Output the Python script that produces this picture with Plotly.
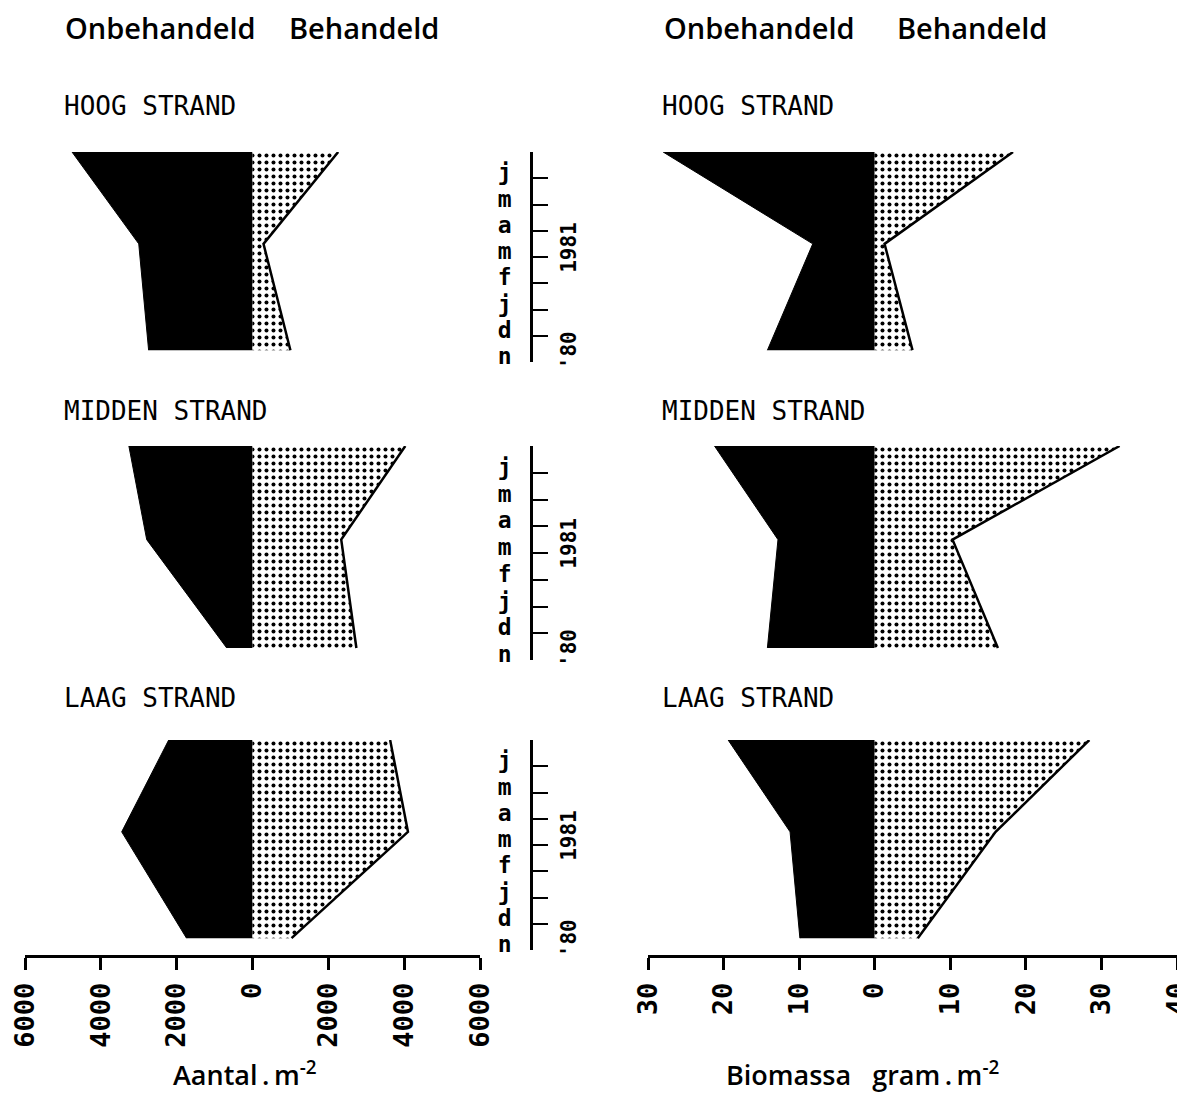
import plotly.graph_objects as go

# page is drawn with an 8 px body margin; figure coordinates are offset accordingly
PAGE_W, PAGE_H = 1185, 1094
OFF = 8
W, H = PAGE_W - OFF, PAGE_H - OFF

# ---------------- data ----------------
# time axis: months since 1 Nov 1980 (n d j f m a m j)
month_letters = ['n', 'd', 'j', 'f', 'm', 'a', 'm', 'j', '']
month_ticks = [0, 1, 2, 3, 4, 5, 6, 7, 8]
sample_t = [0.45, 4.5, 8.0]          # sampling moments (mid-Nov '80, mid-Mar '81, end Jun '81)

stations = ['HOOG STRAND', 'MIDDEN STRAND', 'LAAG STRAND']

# Aantal per m2
aantal_hoog_onbeh = [2740, 3000, 4760]
aantal_hoog_beh = [1000, 290, 2260]
aantal_midden_onbeh = [680, 2790, 3260]
aantal_midden_beh = [2740, 2340, 4030]
aantal_laag_onbeh = [1740, 3450, 2210]
aantal_laag_beh = [1030, 4100, 3630]

# Biomassa gram per m2
bio_hoog_onbeh = [14.2, 8.2, 28.0]
bio_hoog_beh = [5.0, 1.3, 18.3]
bio_midden_onbeh = [14.2, 12.8, 21.2]
bio_midden_beh = [16.3, 10.3, 32.4]
bio_laag_onbeh = [9.9, 11.2, 19.4]
bio_laag_beh = [5.7, 16.0, 28.4]

aantal_ticks = [-6000, -4000, -2000, 0, 2000, 4000, 6000]
aantal_labels = ['6000', '4000', '2000', '0', '2000', '4000', '6000']
bio_ticks = [-30, -20, -10, 0, 10, 20, 30, 40]
bio_labels = ['30', '20', '10', '0', '10', '20', '30', '40']

# ---------------- layout helpers ----------------
def px_x(p):
    return (p - OFF) / W

def px_y(p):
    return 1 - (p - OFF) / H

xL = [px_x(25), px_x(480)]
xR = [px_x(648), px_x(1177)]
row_px = [(152, 362), (446, 660), (740, 950)]
row_dom = [[px_y(b), px_y(t)] for t, b in row_px]

aantal_rows = [(aantal_hoog_onbeh, aantal_hoog_beh),
               (aantal_midden_onbeh, aantal_midden_beh),
               (aantal_laag_onbeh, aantal_laag_beh)]
bio_rows = [(bio_hoog_onbeh, bio_hoog_beh),
            (bio_midden_onbeh, bio_midden_beh),
            (bio_laag_onbeh, bio_laag_beh)]

fig = go.Figure()

STIPPLE = dict(shape='.', size=7, solidity=0.26, fgcolor='black', bgcolor='white', fillmode='replace')

for r in range(3):
    yname = 'y' if r == 0 else f'y{r + 1}'
    xl = 'x' if r == 0 else f'x{2 * r + 1}'
    xr = f'x{2 * r + 2}'
    for xname, (onb, beh) in ((xl, aantal_rows[r]), (xr, bio_rows[r])):
        fig.add_trace(go.Scatter(
            x=[-v for v in onb], y=sample_t, xaxis=xname, yaxis=yname,
            mode='lines', fill='tozerox', fillcolor='black',
            line=dict(color='black', width=1), showlegend=False, hoverinfo='skip'))
        fig.add_trace(go.Scatter(
            x=beh, y=sample_t, xaxis=xname, yaxis=yname,
            mode='lines', fill='tozerox', fillpattern=STIPPLE, fillcolor='white',
            line=dict(color='black', width=2.5), showlegend=False, hoverinfo='skip'))

layout = dict(width=W, height=H, autosize=False, margin=dict(l=0, r=0, t=0, b=0, pad=0),
              paper_bgcolor='white', plot_bgcolor='rgba(0,0,0,0)', showlegend=False)

tick_font = dict(family='DejaVu Sans Mono', size=27, color='black', weight='bold')
for r in range(3):
    ykey = 'yaxis' if r == 0 else f'yaxis{r + 1}'
    yname = 'y' if r == 0 else f'y{r + 1}'
    layout[ykey] = dict(
        domain=row_dom[r], range=[0, 8], anchor='free', position=px_x(531), side='left',
        showline=True, linecolor='black', linewidth=2.5, automargin=False,
        tickmode='array', tickvals=month_ticks, ticktext=month_letters,
        ticks='inside', ticklen=15, tickwidth=2, tickcolor='black',
        tickfont=dict(family='DejaVu Sans Mono', size=23, color='black', weight='bold'),
        ticklabelstandoff=14, ticklabelshift=-6, ticklabeloverflow='allow',
        showgrid=False, zeroline=False, fixedrange=True)
    for side, dom, rng, tv, tt in (('L', xL, [-6000, 6000], aantal_ticks, aantal_labels),
                                   ('R', xR, [-30, 40], bio_ticks, bio_labels)):
        idx = 2 * r + (1 if side == 'L' else 2)
        xkey = 'xaxis' if idx == 1 else f'xaxis{idx}'
        ax = dict(domain=dom, range=rng, showgrid=False, zeroline=False, fixedrange=True,
                  automargin=False)
        if r < 2:
            ax.update(anchor=yname, visible=False)
        else:
            ax.update(anchor='free', position=px_y(956), side='bottom', visible=True,
                      showline=True, linecolor='black', linewidth=3,
                      tickmode='array', tickvals=tv, ticktext=tt,
                      ticks='outside', ticklen=12, tickwidth=2.5, tickcolor='black',
                      tickangle=-90, tickfont=tick_font, ticklabelstandoff=2,
                      ticklabeloverflow='allow')
        layout[xkey] = ax

annotations = []
head_font = dict(family='Open Sans', size=29, color='black', weight=600)
for x0, word in ((63, 'Onbehandeld'), (287, 'Behandeld'), (662, 'Onbehandeld'), (895, 'Behandeld')):
    annotations.append(dict(text=word, x=px_x(x0), y=px_y(28), xref='paper', yref='paper',
                            xanchor='left', yanchor='middle', showarrow=False, font=head_font))

label_font = dict(family='DejaVu Sans Mono', size=26, color='black')
label_y = [106, 411, 698]
for r in range(3):
    for x0 in (62, 660):
        annotations.append(dict(text=stations[r], x=px_x(x0), y=px_y(label_y[r]),
                                xref='paper', yref='paper', xanchor='left', yanchor='middle',
                                showarrow=False, font=label_font))

year_font = dict(family='DejaVu Sans Mono', size=21, color='black', weight='bold')
for r in range(3):
    yname = 'y' if r == 0 else f'y{r + 1}'
    annotations.append(dict(text='1981', x=px_x(569), y=4.35, xref='paper', yref=yname,
                            textangle=-90, showarrow=False, font=year_font,
                            xanchor='center', yanchor='middle'))
    annotations.append(dict(text="'80", x=px_x(569), y=0.45, xref='paper', yref=yname,
                            textangle=-90, showarrow=False, font=year_font,
                            xanchor='center', yanchor='middle'))

title_font = dict(family='Open Sans', size=27, color='black', weight=600)
annotations.append(dict(text='Aantal\u2009.\u2009m<sup>-2</sup>', x=px_x(245), y=px_y(1073),
                        xref='paper', yref='paper', showarrow=False, font=title_font,
                        xanchor='center', yanchor='middle'))
annotations.append(dict(text='Biomassa\u00a0\u00a0 gram\u2009.\u2009m<sup>-2</sup>', x=px_x(862), y=px_y(1073),
                        xref='paper', yref='paper', showarrow=False, font=title_font,
                        xanchor='center', yanchor='middle'))

layout['annotations'] = annotations
fig.update_layout(**layout)

fig.write_html("out.html")
